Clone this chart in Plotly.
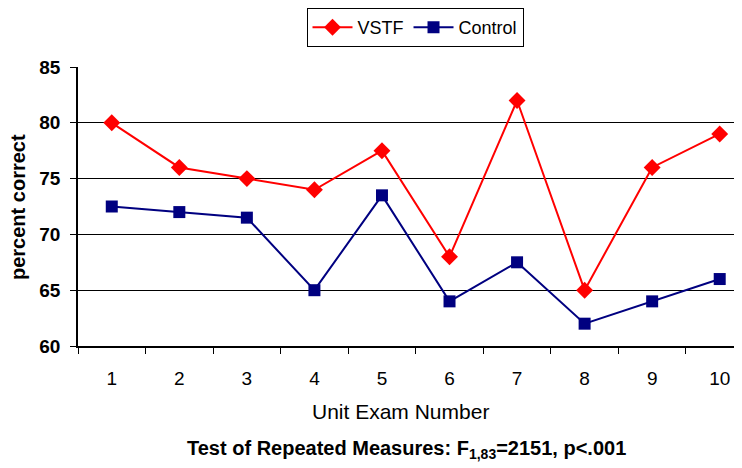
import plotly.graph_objects as go

exams = ["1", "2", "3", "4", "5", "6", "7", "8", "9", "10"]
vstf = [80, 76, 75, 74, 77.5, 68, 82, 65, 76, 79]
control = [72.5, 72, 71.5, 65, 73.5, 64, 67.5, 62, 64, 66]

FONT = "Liberation Sans, Arial, sans-serif"
OFF = 8  # page body margin
W, H = 742 - OFF, 468 - OFF
L, R, T = 78 - OFF, 0, 67 - OFF
B = H - (346 - OFF)
PW, PH = W - L - R, H - T - B


def px(x):
    return (x - OFF - L) / PW


def py(y):
    return (H - B - (y - OFF)) / PH


fig = go.Figure()
fig.add_trace(go.Scatter(
    x=exams, y=vstf, name="VSTF", mode="lines+markers",
    line=dict(color="#FF0000", width=2),
    marker=dict(symbol="diamond", size=13, color="#FF0000"),
))
fig.add_trace(go.Scatter(
    x=exams, y=control, name="Control", mode="lines+markers",
    line=dict(color="#000080", width=2),
    marker=dict(symbol="square", size=12, color="#000080"),
))

fig.update_layout(
    width=W, height=H,
    margin=dict(l=L, r=R, t=T, b=B, autoexpand=False),
    paper_bgcolor="white", plot_bgcolor="white",
    font=dict(family=FONT, color="black"),
    showlegend=True,
    legend=dict(
        orientation="h", xref="container", yref="container",
        x=(415 - OFF) / W, xanchor="center", y=1.0, yanchor="top",
        bordercolor="black", borderwidth=1, bgcolor="white",
        font=dict(size=18, family=FONT), itemwidth=40,
        tracegroupgap=0,
    ),
    xaxis=dict(
        type="category", range=[-0.5, 9.33], automargin=False,
        tickson="boundaries", ticks="outside", ticklen=6, tickcolor="black",
        showgrid=False, showline=True, linecolor="black", linewidth=1.5,
        tickfont=dict(size=19), ticklabelstandoff=14,
        zeroline=False,
    ),
    yaxis=dict(
        range=[60, 85], dtick=5, tick0=60, automargin=False,
        ticks="outside", ticklen=6, tickcolor="black",
        showgrid=True, gridcolor="black", gridwidth=1,
        showline=True, linecolor="black", linewidth=1.5,
        tickfont=dict(size=19, weight="bold"), ticklabelstandoff=6,
        zeroline=False,
    ),
    annotations=[
        dict(text="<b>percent correct</b>", xref="paper", yref="paper",
             x=px(18), y=py(207), xanchor="center", yanchor="middle",
             textangle=-90, showarrow=False, font=dict(size=20)),
        dict(text="Unit Exam Number", xref="paper", yref="paper",
             x=px(400), y=py(411), xanchor="center", yanchor="middle",
             showarrow=False, font=dict(size=21)),
        dict(text="<b>Test of Repeated Measures: F<sub>1,83</sub>=2151, p<.001</b>",
             xref="paper", yref="paper",
             x=px(406), y=py(449), xanchor="center", yanchor="middle",
             showarrow=False, font=dict(size=20)),
    ],
)

fig.write_html("out.html")
